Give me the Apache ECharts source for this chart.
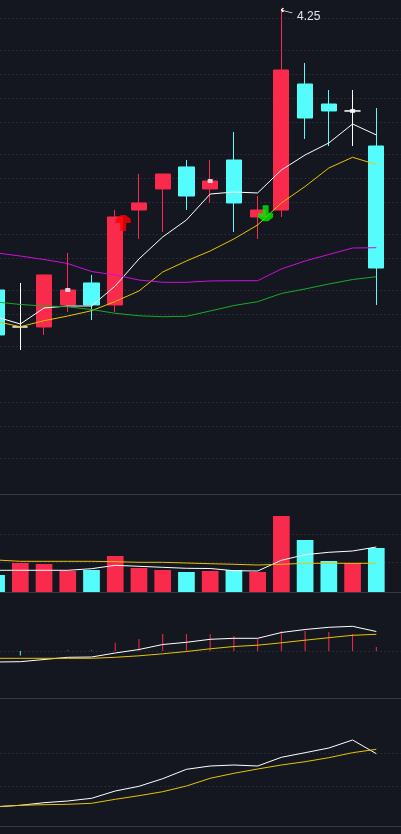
<!DOCTYPE html>
<html>
<head>
<meta charset="utf-8">
<script src="https://cdn.jsdelivr.net/npm/echarts@6/dist/echarts.min.js"></script>
<style>
html,body{margin:0;padding:0;background:#14171f;}
#c{width:401px;height:834px;}
</style>
</head>
<body>
<div id="c"></div>
<script>
// ---- data ----
const days = ['1','2','3','4','5','6','7','8','9','10','11','12','13','14','15','16','17',''];

const priceOpen  = [3.9000, 3.8538, 3.8538, 3.8813, 3.9088, 3.8813, 4.0000, 4.0263, 4.0538, 4.0263, 4.0625, 3.9913, 4.0000, 4.1575, 4.1325, 4.1238, 4.0800];
const priceClose = [3.8438, 3.8538, 3.9188, 3.9000, 3.8813, 3.9913, 4.0088, 4.0450, 4.0175, 4.0363, 4.0088, 4.0000, 4.1750, 4.1150, 4.1238, 4.1238, 3.9275];
const priceLow   = [3.8375, 3.8250, 3.8438, 3.8725, 3.8625, 3.8725, 3.9638, 3.9725, 4.0000, 4.0088, 3.9725, 3.9638, 3.9913, 4.0888, 4.0800, 4.0800, 3.8813];
const priceHigh  = [3.9050, 3.9088, 3.9188, 3.9463, 3.9188, 4.0000, 4.0450, 4.0450, 4.0625, 4.0625, 4.0975, 4.0175, 4.2500, 4.1838, 4.1500, 4.1500, 4.1275];

const ma5  = [3.8663, 3.8575, 3.8775, 3.8800, 3.8800, 3.9050, 3.9388, 3.9663, 3.9875, 4.0200, 4.0225, 4.0213, 4.0500, 4.0688, 4.0838, 4.1075, 4.0938];
const ma10 = [3.8606, 3.8541, 3.8616, 3.8675, 3.8741, 3.8856, 3.8988, 3.9225, 3.9363, 3.9488, 3.9638, 3.9813, 4.0088, 4.0294, 4.0525, 4.0659, 4.0569];
const ma20 = [3.9463, 3.9425, 3.9381, 3.9331, 3.9231, 3.9188, 3.9125, 3.9096, 3.9096, 3.9113, 3.9116, 3.9116, 3.9263, 3.9363, 3.9444, 3.9525, 3.9529];
const ma60 = [3.8850, 3.8819, 3.8800, 3.8791, 3.8756, 3.8709, 3.8678, 3.8666, 3.8671, 3.8738, 3.8806, 3.8854, 3.8956, 3.9013, 3.9075, 3.9131, 3.9166];

const markDays   = [3, 9, 15];
const markPrices = [3.9000, 4.0363, 4.1238];
const buyDay = 5,  buyPrice = 3.9838;
const sellDay = 11, sellPrice = 3.9958;

const volume  = [17, 29, 28, 21, 22, 36, 24, 22, 20, 21, 22, 20, 76, 52, 31, 29, 44];
const volMa5  = [21.7, 21.7, 21.7, 21.7, 23.3, 26.7, 25.7, 24.7, 23.7, 23.5, 21.3, 21.0, 31.7, 37.3, 39.7, 41.0, 45.0];
const volMa10 = [32.0, 30.7, 30.7, 30.7, 30.7, 30.3, 29.7, 29.7, 29.0, 28.3, 27.7, 27.0, 27.7, 28.7, 28.7, 28.7, 28.7];

const dif  = [-0.0110, -0.0107, -0.0085, -0.0063, -0.0060, -0.0020, 0.0015, 0.0065, 0.0087, 0.0117, 0.0127, 0.0127, 0.0185, 0.0215, 0.0237, 0.0247, 0.0195];
const dea  = [-0.0073, -0.0073, -0.0073, -0.0073, -0.0073, -0.0063, -0.0048, -0.0028, -0.0005, 0.0022, 0.0045, 0.0058, 0.0082, 0.0108, 0.0133, 0.0157, 0.0167];
const hist = [0, -0.0044, 0, 0.0010, 0.0010, 0.0083, 0.0120, 0.0170, 0.0170, 0.0170, 0.0150, 0.0120, 0.0200, 0.0200, 0.0190, 0.0170, 0.0040];

const indFast = [19.3, 20.7, 23.3, 25.0, 27.7, 35.0, 39.7, 47.3, 56.7, 60.0, 61.0, 60.0, 68.7, 73.3, 78.0, 86.0, 72.3];
const indSlow = [19.3, 20.7, 21.3, 21.7, 22.7, 26.7, 30.3, 34.3, 40.0, 47.7, 52.7, 57.0, 61.0, 64.3, 68.3, 73.3, 76.7];

// horizontal dotted guide levels (tick levels of each panel)
const priceGrid = [4.2371, 4.2046, 4.1738, 4.1409, 4.1084, 4.0746, 4.0409, 4.0075, 3.9741, 3.9396, 3.9050, 3.8700, 3.8341, 3.7984, 3.7621, 3.7259, 3.6896];
const volGrid = [30, 58];
const macdGrid = [0];
const indGrid = [39.7, 72.7];

// ---- chart ----
const UP = '#f92a4b', DOWN = '#54fcfc', BG = '#14171f';
const SEP = '#353943', DOT = '#3b3f49';
const candles = priceOpen.map((o, i) => [o, priceClose[i], priceLow[i], priceHigh[i]]);

const gridBase = {left: -15.3, width: 427.2, outerBoundsMode: 'none', containLabel: false};
const grids = [
  Object.assign({top: 0, height: 494}, gridBase),
  Object.assign({top: 494, height: 98}, gridBase),
  Object.assign({top: 593, height: 105}, gridBase),
  Object.assign({top: 699, height: 127}, gridBase)
];
const xAxes = grids.map((g, i) => ({
  type: 'category', gridIndex: i, data: days, boundaryGap: true,
  axisLine: {show: true, onZero: false, lineStyle: {color: SEP, width: 1}},
  axisTick: {show: false}, axisLabel: {show: false}, splitLine: {show: false}
}));
const yAxes = [
  {type: 'value', gridIndex: 0, min: 3.645, max: 4.2625, show: false},
  {type: 'value', gridIndex: 1, min: 0, max: 98, show: false},
  {type: 'value', gridIndex: 2, min: -0.047, max: 0.058, show: false},
  {type: 'value', gridIndex: 3, min: 0, max: 127, show: false}
];

function guides(levels) {
  return {
    silent: true, symbol: ['none', 'none'], z: 1, animation: false,
    label: {show: false}, emphasis: {disabled: true},
    lineStyle: {color: DOT, type: [1, 3], width: 1},
    data: levels.map(v => ({yAxis: v}))
  };
}
function line(data, color, xi, extra) {
  return Object.assign({
    type: 'line', data: data, xAxisIndex: xi, yAxisIndex: xi,
    symbol: 'none', showSymbol: false, smooth: false, silent: true, z: 3,
    lineStyle: {color: color, width: 1}, itemStyle: {color: color}
  }, extra || {});
}

const option = {
  backgroundColor: BG,
  animation: false,
  grid: grids,
  xAxis: xAxes,
  yAxis: yAxes,
  series: [
    {
      type: 'candlestick', data: candles, xAxisIndex: 0, yAxisIndex: 0,
      barWidth: 15.7, silent: true, z: 2,
      itemStyle: {color: UP, color0: DOWN, borderColor: UP, borderColor0: DOWN, borderColorDoji: '#ffffff', borderWidth: 1},
      markLine: guides(priceGrid),
      markPoint: {
        silent: true, animation: false,
        symbol: 'path://M0,2L2,0M0,2L2,4M0,2L11,5',
        symbolSize: [11, 5], symbolOffset: [5.5, 0.5], symbolKeepAspect: false,
        itemStyle: {color: 'none', borderColor: '#ffffff', borderWidth: 1},
        label: {
          show: true, position: 'right', distance: 1, offset: [0, 6],
          color: '#dce6f2', fontSize: 12, fontFamily: 'Liberation Sans, Arial, sans-serif',
          formatter: p => Number(Array.isArray(p.value) ? p.value[p.value.length - 1] : p.value).toFixed(2)
        },
        data: [{type: 'max', valueDim: 'highest'}]
      }
    },
    line(ma5, '#ffffff', 0),
    line(ma10, '#e8c400', 0),
    line(ma20, '#cc10dd', 0),
    line(ma60, '#1aaa2c', 0),
    {
      type: 'scatter', xAxisIndex: 0, yAxisIndex: 0, silent: true, z: 5,
      symbol: 'rect', symbolSize: [5, 4], itemStyle: {color: '#ffffff'},
      data: markDays.map((d, i) => [d, markPrices[i]])
    },
    {
      type: 'scatter', xAxisIndex: 0, yAxisIndex: 0, silent: true, z: 6,
      symbol: 'path://M5,0L10,0L12.5,2L15,4L15,8L10.5,8L10.5,16L4.5,16L4.5,8L0,8L0,4L2.5,2Z',
      symbolSize: [15, 16], symbolOffset: [8, 0], symbolKeepAspect: false, itemStyle: {color: '#ff0000'},
      data: [[buyDay, buyPrice]]
    },
    {
      type: 'scatter', xAxisIndex: 0, yAxisIndex: 0, silent: true, z: 6,
      symbol: 'path://M4.5,0L10.5,0L10.5,8L15,8L15,12L12.5,14L10,16L5,16L2.5,14L0,12L0,8L4.5,8Z',
      symbolSize: [15, 16], symbolOffset: [8, 0], symbolKeepAspect: false, itemStyle: {color: '#00ee00'},
      data: [[sellDay, sellPrice]]
    },
    {
      type: 'bar', xAxisIndex: 1, yAxisIndex: 1, barWidth: 16.7, silent: true, z: 2,
      data: volume.map((v, i) => ({value: v, itemStyle: {color: priceClose[i] >= priceOpen[i] ? UP : DOWN}})),
      markLine: guides(volGrid)
    },
    line(volMa5, '#ffffff', 1),
    line(volMa10, '#e8c400', 1),
    {
      type: 'bar', xAxisIndex: 2, yAxisIndex: 2, barWidth: 1, silent: true, z: 2,
      data: hist.map(v => ({value: v, itemStyle: {color: v >= 0 ? UP : DOWN}})),
      markLine: guides(macdGrid)
    },
    line(dif, '#ffffff', 2),
    line(dea, '#e8c400', 2),
    line(indFast, '#ffffff', 3, {markLine: guides(indGrid)}),
    line(indSlow, '#e8c400', 3)
  ]
};

const chart = echarts.init(document.getElementById('c'), null, {renderer: 'canvas'});
chart.setOption(option);
</script>
</body>
</html>
